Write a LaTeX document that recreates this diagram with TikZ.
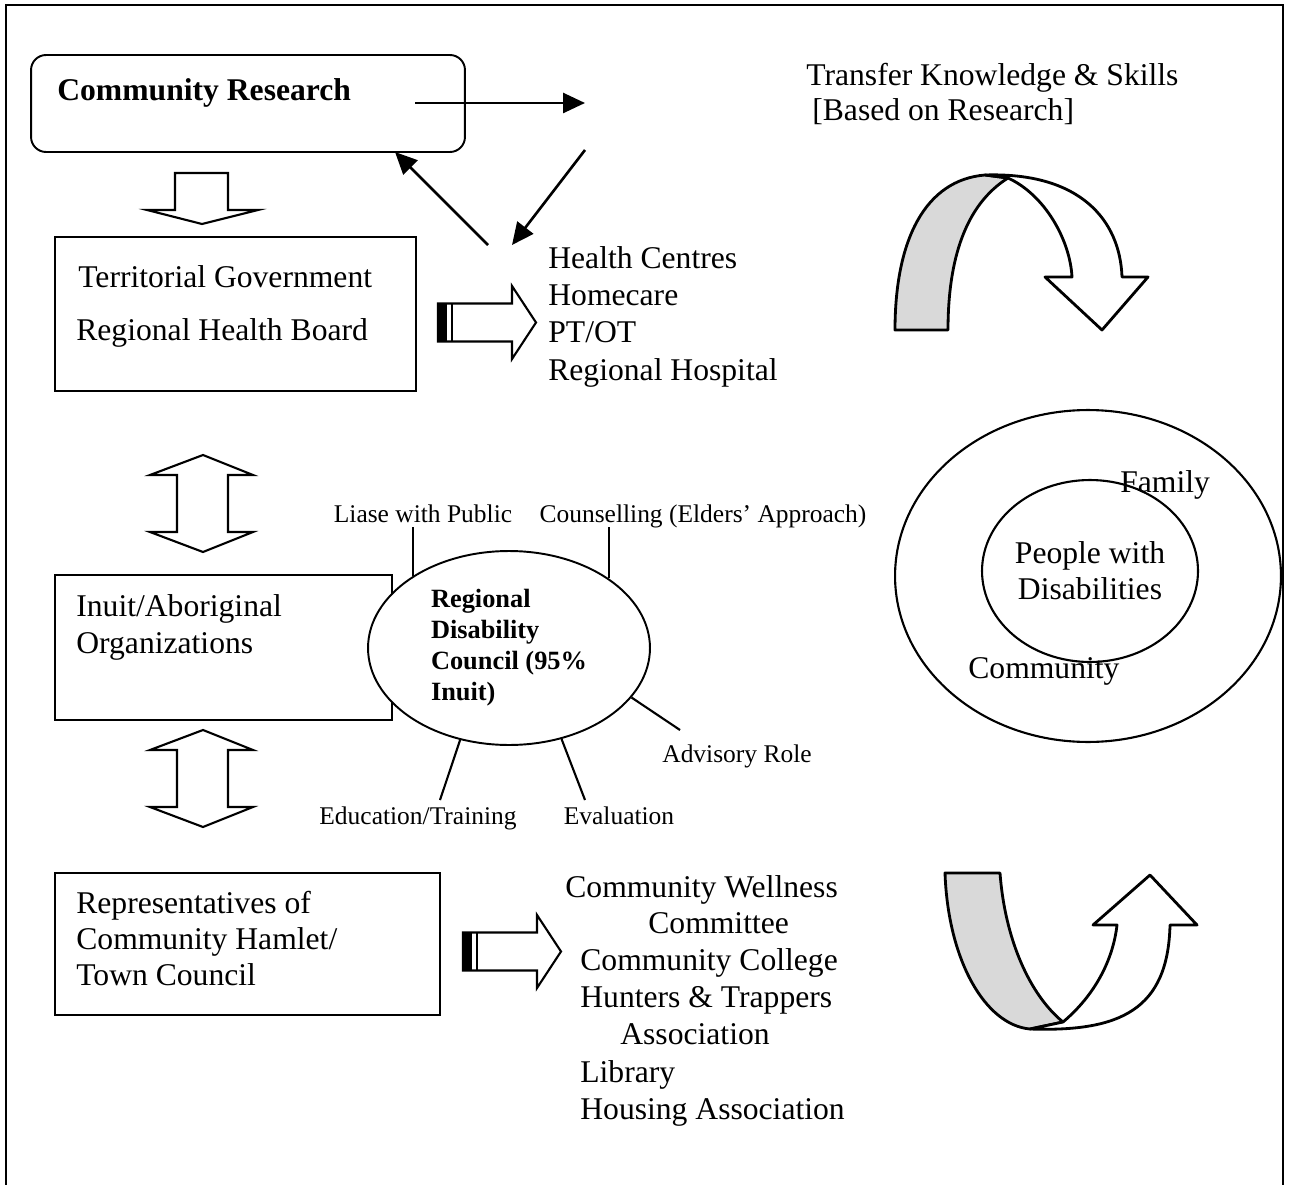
\documentclass[tikz,border=0pt]{standalone}
\usepackage{fontspec}
\setmainfont{Liberation Serif}
\usetikzlibrary{shapes.geometric, arrows.meta}

\tikzset{
  frame/.style={line width=1.5pt},
  block/.style={rectangle, draw=black, line width=1.1pt, inner sep=0pt},
  txt/.style={font=\fontsize{18}{21}\selectfont, inner sep=0pt, text height=12pt, text depth=0pt, anchor=west},
  smalltxt/.style={font=\fontsize{14.5}{17}\selectfont, inner sep=0pt, outer sep=2.5pt, text height=9.6pt, text depth=0pt},
  arrow/.style={line width=1.5pt, -{Triangle[length=0.44cm, width=0.4cm]}},
  fatarrow/.style={draw=black, line width=1.2pt, fill=white, line join=miter},
  ribbon/.style={draw=black, line width=1.6pt, line join=round},
  spoke/.style={line width=1.2pt},
  ring/.style={ellipse, draw=black, line width=1.2pt, inner sep=0pt},
}

\begin{document}
\begin{tikzpicture}[x=0.02cm, y=-0.02cm]
\useasboundingbox (0,0) rectangle (1290,1185);

% outer frame, open at the bottom
\draw[frame] (6,1185) -- (6,5) -- (1283,5) -- (1283,1185);

% Community research block
\node (cr) [block, rounded corners=0.3cm, minimum width=8.68cm, minimum height=1.94cm] at (248,103.5) {};
\node (crtxt) [txt, font=\bfseries\fontsize{18}{21}\selectfont] at (57,90) {Community Research};

\node (transfer) [txt] at (806,75) {Transfer Knowledge \& Skills};
\node (based) [txt] at (812,110) {[Based on Research]};

% research loop
\coordinate (cr-start) at (415,103);
\coordinate (cr-right) at (585,103);
\coordinate (loop-top) at (585,150);
\coordinate (hc-in) at (512,245);
\coordinate (hc-out) at (488,245);
\coordinate (cr-back) at (395,152);
\draw[arrow] (cr-start) -- (cr-right);
\draw[arrow] (loop-top) -- (hc-in);
\draw[arrow] (hc-out) -- (cr-back);

% block arrow down
\draw[fatarrow] (175,173) -- (228,173) -- (228,210) -- (258,210) -- (202,224) -- (147,210) -- (175,210) -- cycle;

% Territorial government
\node (tgov) [block, minimum width=7.22cm, minimum height=3.08cm] at (235.5,314) {};
\node (tgov1) [txt] at (78,277) {Territorial Government};
\node (tgov2) [txt] at (76,330) {Regional Health Board};

\node (hc1) [txt] at (548,258) {Health Centres};
\node (hc2) [txt] at (548,295) {Homecare};
\node (hc3) [txt] at (548,332) {PT/OT};
\node (hc4) [txt] at (548,370) {Regional Hospital};

% striped block arrows
\foreach \lx/\cy in {438/322.5, 463/951.5} {
  \fill (\lx,\cy-19) rectangle (\lx+9,\cy+19);
  \draw[fatarrow, fill=none] (\lx,\cy-19) -- (\lx+74,\cy-19) -- (\lx+74,\cy-36.5) -- (\lx+98,\cy)
    -- (\lx+74,\cy+36.5) -- (\lx+74,\cy+19) -- (\lx,\cy+19) -- cycle;
  \draw[line width=1.2pt] (\lx+14,\cy-19) -- (\lx+14,\cy+19);
}

% double block arrows
\foreach \ya/\yb in {455/552, 730/827}
  \draw[fatarrow] (203,\ya) -- (253,\ya+20) -- (228,\ya+20) -- (228,\yb-20) -- (253,\yb-20) -- (203,\yb)
    -- (150,\yb-20) -- (177,\yb-20) -- (177,\ya+20) -- (150,\ya+20) -- cycle;

% Inuit organizations and the council
\node (inuit) [block, minimum width=6.74cm, minimum height=2.9cm] at (223.5,647.5) {};
\node (inuit1) [txt] at (76,606) {Inuit/Aboriginal};
\node (inuit2) [txt] at (76,643) {Organizations};

\node (rdc) [ellipse, draw=black, fill=white, line width=1.1pt, minimum width=5.64cm, minimum height=3.88cm,
  inner sep=0pt, align=left, font=\bfseries\fontsize{15}{17.6}\selectfont] at (509,648)
  {Regional\\Disability\\Council (95\%\\Inuit)};

\node (liase) [smalltxt] at (423,514) {Liase with Public};
\node (counsel) [smalltxt] at (703,514) {Counselling (Elders’ Approach)};
\node (advisory) [smalltxt] at (737,754) {Advisory Role};
\node (edu) [smalltxt] at (418,816) {Education/Training};
\node (evaluation) [smalltxt] at (619,816) {Evaluation};

\coordinate (adv-end) at (680,730);
\coordinate (edu-end) at (440,800);
\coordinate (eval-end) at (585,800);
\draw[spoke] (rdc.143) -- (rdc.143 |- liase.south);
\draw[spoke] (rdc.35) -- (rdc.35 |- counsel.south);
\draw[spoke] (rdc.-22) -- (adv-end);
\draw[spoke] (rdc.242) -- (edu-end);
\draw[spoke] (rdc.-60) -- (eval-end);

% Representatives
\node (rep) [block, minimum width=7.7cm, minimum height=2.84cm] at (247.5,944) {};
\node (rep1) [txt] at (76,903) {Representatives of};
\node (rep2) [txt] at (76,939) {Community Hamlet/};
\node (rep3) [txt] at (76,975) {Town Council};

\node (cw1) [txt] at (565,887) {Community Wellness};
\node (cw2) [txt] at (648,923) {Committee};
\node (cc) [txt] at (580,960) {Community College};
\node (ht1) [txt] at (580,997) {Hunters \& Trappers};
\node (ht2) [txt] at (620,1034) {Association};
\node (lib) [txt] at (580,1072) {Library};
\node (ha) [txt] at (580,1109) {Housing Association};

% ribbon arrow, top
\draw[ribbon, fill=gray!30] (895,330) -- (948,330) .. controls (948,260) and (965,205) .. (1008,178)
  -- (985,175) .. controls (925,180) and (895,240) .. (895,330) -- cycle;
\draw[ribbon, fill=white] (1008,178) .. controls (1045,195) and (1070,240) .. (1072,277) -- (1045,277)
  -- (1102,330) -- (1148,277) -- (1122,277) .. controls (1120,220) and (1080,172) .. (985,175) -- cycle;

% ribbon arrow, bottom
\draw[ribbon, fill=gray!30] (945,873) -- (1000,873) .. controls (1005,940) and (1030,995) .. (1063,1022)
  -- (1030,1029) .. controls (985,1025) and (948,960) .. (945,873) -- cycle;
\draw[ribbon, fill=white] (1063,1022) .. controls (1095,995) and (1113,960) .. (1117,925) -- (1093,925)
  -- (1150,875) -- (1197,925) -- (1170,925) .. controls (1168,1010) and (1120,1032) .. (1030,1029) -- cycle;

% family and community rings
\node (commring) [ring, minimum width=7.72cm, minimum height=6.64cm] at (1088,576) {};
\node (pwd) [ring, minimum width=4.32cm, minimum height=3.64cm, align=center,
  font=\fontsize{18}{20.4}\selectfont] at (1090,571) {People with\\Disabilities};
\node (family) [txt] at (1120,482) {Family};
\node (community) [txt] at (968,668) {Community};

\end{tikzpicture}
\end{document}
